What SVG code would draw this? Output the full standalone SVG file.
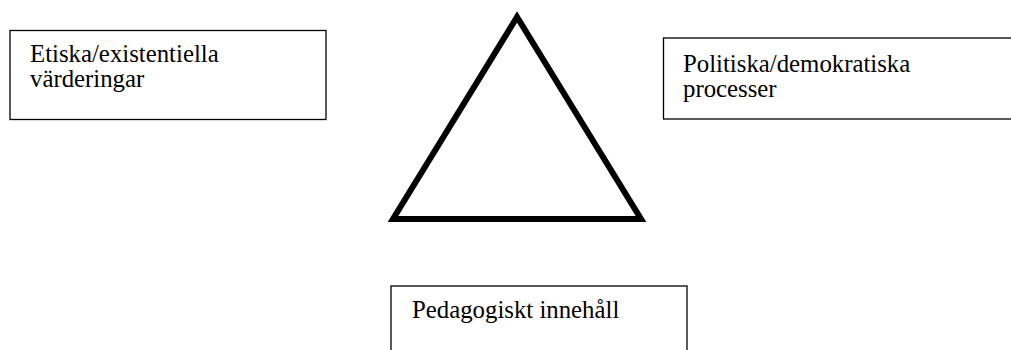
<svg xmlns="http://www.w3.org/2000/svg" width="1011" height="350" viewBox="0 0 1011 350">
<style>
.box{fill:#fff;stroke:#000;stroke-width:1.3}
.t{font-family:"Liberation Serif","Times New Roman",serif;font-size:24.8px;fill:#000}
</style>
<rect width="1011" height="350" fill="#fff"/>
<g id="triangle"><polygon points="517,17 393,219 641,219" fill="none" stroke="#000" stroke-width="6" stroke-linejoin="miter"/></g>
<g id="node-etiska"><rect class="box" x="10" y="30.5" width="316" height="89"/><text class="t" x="30" y="62">Etiska/existentiella</text><text class="t" x="30" y="87">värderingar</text></g>
<g id="node-politiska"><rect class="box" x="663.5" y="38" width="360" height="81"/><text class="t" x="683" y="72">Politiska/demokratiska</text><text class="t" x="683" y="97">processer</text></g>
<g id="node-pedagogiskt"><rect class="box" x="391" y="286" width="296" height="80"/><text class="t" x="412" y="318">Pedagogiskt innehåll</text></g>
<g id="connectors"/>
</svg>
